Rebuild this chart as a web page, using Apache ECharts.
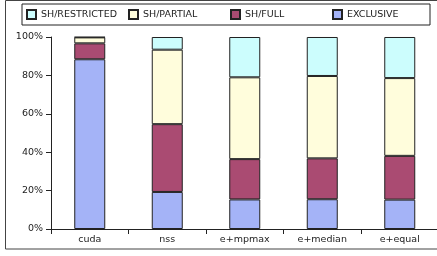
<!DOCTYPE html>
<html>
<head>
<meta charset="utf-8">
<script src="https://cdn.jsdelivr.net/npm/echarts@6/dist/echarts.min.js"></script>
<style>
  html, body { margin: 0; padding: 0; background: #fff; }
  #chart { width: 437px; height: 256px; }
</style>
</head>
<body>
<div id="chart"></div>
<script>
// categories and stacked shares (%)
var categories = ["cuda", "nss", "e+mpmax", "e+median", "e+equal"];
var exclusive = [88.4, 19.3, 15.4, 15.5, 15.3];
var shFull = [8.3, 35.3, 21.0, 21.3, 22.8];
var shPartial = [3.1, 38.8, 42.6, 42.9, 40.5];
var shRestricted = [0.2, 6.6, 21.0, 20.3, 21.4];
var yTicks = [0, 20, 40, 60, 80, 100];

var font = "DejaVu Sans";
var myChart = echarts.init(document.getElementById("chart"));

function bar(name, data, color) {
  return {
    name: name,
    type: "bar",
    stack: "total",
    barWidth: 31,
    data: data,
    itemStyle: { color: color, borderColor: "#222", borderWidth: 1 }
  };
}

var option = {
  animation: false,
  textStyle: { fontFamily: font },
  graphic: [
    {
      type: "rect",
      shape: { x: 5.5, y: 0.5, width: 440, height: 248.5 },
      style: { fill: "none", stroke: "#444", lineWidth: 1 },
      silent: true
    }
  ],
  legend: {
    data: ["SH/RESTRICTED", "SH/PARTIAL", "SH/FULL", "EXCLUSIVE"],
    left: 22,
    top: 4,
    padding: [5, 3, 5, 4],
    borderColor: "#222",
    borderWidth: 1,
    itemWidth: 9,
    itemHeight: 9,
    itemGap: 7,
    icon: "rect",
    textStyle: { fontSize: 9.5, color: "#222", width: 80, lineHeight: 11, fontFamily: font }
  },
  grid: { left: 51, top: 37, bottom: 27, right: -1.5, outerBoundsMode: "none" },
  xAxis: {
    type: "category",
    data: categories,
    axisLine: { lineStyle: { color: "#222" } },
    axisTick: { show: true, length: 5, lineStyle: { color: "#222" } },
    axisLabel: { fontSize: 9.5, color: "#222", margin: 6, fontFamily: font }
  },
  yAxis: {
    type: "value",
    min: yTicks[0],
    max: yTicks[yTicks.length - 1],
    interval: 20,
    splitLine: { show: false },
    axisLine: { show: true, lineStyle: { color: "#222" } },
    axisTick: { show: true, length: 5, lineStyle: { color: "#222" } },
    axisLabel: { fontSize: 9.5, color: "#222", margin: 8, formatter: "{value}%", fontFamily: font }
  },
  series: [
    bar("EXCLUSIVE", exclusive, "#A4B3F7"),
    bar("SH/FULL", shFull, "#AA4B72"),
    bar("SH/PARTIAL", shPartial, "#FFFDDC"),
    bar("SH/RESTRICTED", shRestricted, "#CCFDFD")
  ]
};
option && myChart.setOption(option);
</script>
</body>
</html>
